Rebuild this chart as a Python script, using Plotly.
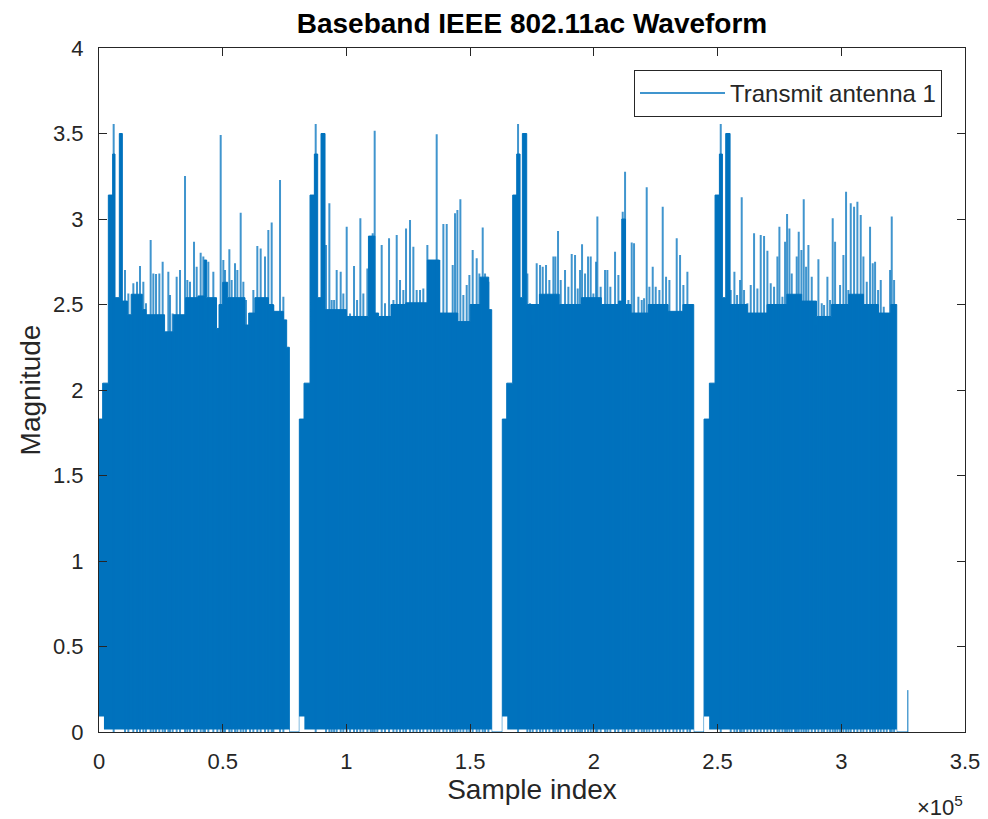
import plotly.graph_objects as go

# ---------------- data ----------------
# Step envelope (upper, dense part) of each packet: each level starts at the given sample index
p1_env_x = [0, 1480, 3770, 5520, 6470, 8220, 9430, 11500, 13000, 17500, 19000, 26500,
            30000, 35000, 40000, 42500, 43500, 47500, 48500, 50000, 52000, 59000, 60500,
            63000, 68500, 70500, 74510, 75850, 76930]
p1_env_y = [1.83, 2.04, 3.14, 3.38, 2.54, 3.50, 2.52, 2.44, 2.56, 2.47, 2.44, 2.34,
            2.44, 2.54, 2.55, 2.76, 2.54, 2.36, 2.50, 2.63, 2.54, 2.38, 2.45,
            2.54, 2.50, 2.46, 2.41, 2.25, 0.0]

p2_env_x = [80970, 82860, 85290, 87040, 88380, 89730, 91350, 100000, 108900, 111500,
            113000, 118000, 124000, 132700, 137600, 145000, 150000, 154000, 157500, 158710]
p2_env_y = [1.83, 2.04, 3.14, 3.38, 2.54, 3.50, 2.47, 2.43, 2.90, 2.45, 2.43,
            2.50, 2.51, 2.76, 2.45, 2.40, 2.50, 2.66, 2.47, 0.0]

p3_env_x = [163000, 164780, 167200, 168820, 170170, 171110, 172860, 178000, 186000,
            195000, 203000, 210000, 211300, 212800, 215000, 222000, 230000, 236000, 240360]
p3_env_y = [1.83, 2.04, 3.14, 3.38, 2.54, 3.50, 2.50, 2.56, 2.50,
            2.54, 2.50, 2.52, 3.00, 2.50, 2.45, 2.50, 2.46, 2.50, 0.0]

p4_env_x = [244540, 246690, 248980, 250740, 251950, 253300, 255050, 262000, 270000,
            278000, 284000, 290000, 296000, 303000, 309000, 315000, 320000, 322410, 326900]
p4_env_y = [1.83, 2.04, 3.14, 3.38, 2.54, 3.50, 2.50, 2.45, 2.50,
            2.56, 2.52, 2.43, 2.50, 2.56, 2.50, 2.45, 2.50, 0.0, 0.245]

# Lower envelope (smallest magnitude) of each packet
p1_min_x = [0, 2000, 76930]
p1_min_y = [0.09, 0.015, 0.0]
p2_min_x = [80970, 83000, 158710]
p2_min_y = [0.09, 0.015, 0.0]
p3_min_x = [163000, 165000, 240360]
p3_min_y = [0.09, 0.015, 0.0]
p4_min_x = [244540, 246600, 322410]
p4_min_y = [0.09, 0.015, 0.0]

# Individual peaks (sample index, magnitude)
p1_pk_x = [5930, 10510, 11860, 13880, 15360, 16570, 17920, 18990, 20880, 21960, 23040,
           24390, 25730, 26680, 28020, 28700, 29770, 31390, 32740, 34760, 35700, 36780,
           38400, 39480, 41090, 42170, 42840, 44190, 46210, 47830, 49180, 50250, 50930,
           52680, 53620, 54970, 55910, 57260, 58340, 59410, 61030, 62380, 63990, 65340,
           67090, 68440, 69790, 70470, 73160, 74510]
p1_pk_y = [3.556, 2.702, 2.565, 2.624, 2.633, 2.725, 2.633, 2.507, 2.877, 2.682, 2.678,
           2.682, 2.750, 2.321, 2.692, 2.555, 2.448, 2.663, 2.702, 3.252, 2.643, 2.633,
           2.867, 2.721, 2.803, 2.780, 2.409, 2.750, 2.692, 2.331, 3.491, 2.760, 2.702,
           2.823, 2.643, 2.741, 2.702, 3.037, 2.633, 2.526, 2.409, 2.585, 2.842, 2.828,
           2.780, 2.936, 2.979, 2.497, 3.228, 2.546]

p2_pk_x = [87580, 91750, 93100, 94040, 95020, 96060, 97680, 98750, 100110, 101460,
           103070, 104290, 105630, 106840, 108460, 109810, 110610, 111420, 112490,
           114250, 115590, 117220, 118990, 120320, 121660, 123000, 124090, 125700,
           127050, 128390, 129740, 131080, 132710, 134060, 135400, 136480, 137560,
           139180, 140530, 141870, 142950, 143890, 144840, 146050, 147260, 148610,
           149690, 151030, 152650, 153730, 155080, 156020, 157370]
p2_pk_y = [3.556, 2.848, 3.092, 2.526, 2.526, 2.702, 2.692, 2.565, 2.955, 2.448,
           2.725, 2.526, 3.004, 2.565, 2.711, 2.897, 2.916, 3.516, 2.429,
           2.848, 2.507, 2.887, 2.526, 2.906, 2.643, 2.585, 2.945, 2.994,
           2.838, 2.585, 2.585, 2.594, 2.848, 2.760, 2.760, 3.495, 2.760,
           2.971, 2.971, 2.429, 2.731, 3.033, 3.053, 3.115, 2.555, 2.614,
           2.672, 2.819, 2.770, 2.682, 2.951, 2.682, 2.633]

p3_pk_x = [169360, 173130, 174210, 175280, 176900, 178250, 179330, 180670, 182020,
           183640, 184440, 185520, 186600, 188350, 189700, 191050, 192400, 193480,
           194420, 195230, 196440, 197650, 198730, 199810, 200880, 201420, 202750,
           204520, 205460, 206670, 208560, 209910, 211660, 212610, 213960, 215300,
           216240, 218000, 219350, 220290, 221360, 222440, 223790, 225000, 226480,
           227830, 229180, 230530, 232140, 233490, 234840, 236180, 237800, 238870]
p3_pk_y = [3.556, 2.682, 2.507, 2.380, 2.741, 2.731, 2.721, 2.731, 2.643,
           2.780, 2.780, 2.930, 2.643, 2.702, 2.604, 2.795, 2.789, 2.594,
           2.702, 2.852, 2.682, 2.780, 2.780, 2.565, 2.750, 3.014, 2.604,
           2.702, 2.702, 2.604, 2.809, 2.672, 3.043, 3.277, 2.526, 2.862,
           2.858, 2.546, 2.526, 2.536, 3.185, 2.604, 2.721, 2.604, 2.585,
           3.072, 2.663, 2.643, 2.448, 2.887, 2.789, 2.614, 2.692, 2.487]

p4_pk_x = [251280, 255320, 256800, 257880, 259090, 259760, 260700, 262050, 263400,
           264750, 266090, 267440, 268790, 270140, 271480, 272830, 274180, 274990,
           276210, 277280, 278090, 279030, 279970, 281320, 281990, 282800, 283880,
           284820, 285770, 286710, 288060, 289410, 290750, 292100, 293040, 294390,
           295460, 296540, 297490, 298440, 299510, 300860, 301930, 302870, 303820,
           305170, 306510, 307860, 308940, 310290, 311630, 312710, 313660, 314870,
           315950, 317160, 318370, 319720, 320390, 321340]
p4_pk_y = [3.556, 2.585, 2.692, 2.555, 2.643, 3.127, 2.585, 2.507, 2.614,
           2.916, 2.594, 2.906, 2.901, 2.815, 2.624, 2.604, 2.780, 2.955,
           2.546, 2.867, 3.029, 2.945, 2.682, 2.448, 2.780, 2.926, 2.819,
           3.115, 2.721, 2.848, 2.663, 2.380, 2.764, 2.507, 2.497, 2.663,
           2.526, 3.004, 2.867, 2.497, 2.614, 2.789, 3.160, 2.585, 3.092,
           3.072, 3.101, 3.023, 2.780, 2.633, 2.955, 2.741, 2.750, 2.585,
           2.643, 2.487, 2.429, 2.702, 3.014, 2.643]

x_tick_vals = [0, 50000, 100000, 150000, 200000, 250000, 300000, 350000]
x_tick_text = ["0", "0.5", "1", "1.5", "2", "2.5", "3", "3.5"]
y_tick_vals = [0, 0.5, 1, 1.5, 2, 2.5, 3, 3.5, 4]
y_tick_text = ["0", "0.5", "1", "1.5", "2", "2.5", "3", "3.5", "4"]

# ---------------- build figure ----------------
BLUE = "#0072BD"
AX = "#262626"
FONT = "Liberation Sans, Arial, Helvetica, sans-serif"

# page body has an 8 px margin -> figure is 8 px smaller than the window on each axis
W, H = 980, 811
ML, MT, MR, MB = 91, 40, 23, 87
PW, PH = W - ML - MR, H - MT - MB

env_x = p1_env_x + p2_env_x + p3_env_x + p4_env_x
env_y = p1_env_y + p2_env_y + p3_env_y + p4_env_y

pk_x_all = p1_pk_x + p2_pk_x + p3_pk_x + p4_pk_x
pk_y_all = p1_pk_y + p2_pk_y + p3_pk_y + p4_pk_y
sx, sy = [], []
for xv, yv in zip(pk_x_all, pk_y_all):
    sx += [xv, xv, None]
    sy += [0, yv, None]

fig = go.Figure()
fig.add_trace(go.Scatter(
    x=env_x, y=env_y, mode="lines", line=dict(color=BLUE, width=1, shape="hv"),
    fill="tozeroy", fillcolor=BLUE, showlegend=False, hoverinfo="skip"))
for mx, my in [(p1_min_x, p1_min_y), (p2_min_x, p2_min_y),
               (p3_min_x, p3_min_y), (p4_min_x, p4_min_y)]:
    fig.add_trace(go.Scatter(
        x=mx, y=my, mode="lines", line=dict(color="white", width=0, shape="hv"),
        fill="tozeroy", fillcolor="white", showlegend=False, hoverinfo="skip"))
fig.add_trace(go.Scatter(
    x=sx, y=sy, mode="lines", line=dict(color="rgba(0,114,189,0.75)", width=2),
    name="Transmit antenna 1", showlegend=True, hoverinfo="skip"))

fig.update_layout(
    width=W, height=H,
    margin=dict(l=ML, r=MR, t=MT, b=MB),
    paper_bgcolor="white", plot_bgcolor="white",
    font=dict(family=FONT, color=AX),
    title=dict(text="<b>Baseband IEEE 802.11ac Waveform</b>", x=0.5, xref="paper",
               xanchor="center", y=1 - 15 / H, yref="container", yanchor="middle",
               font=dict(size=28, color="black", family=FONT)),
    legend=dict(x=(942 - 99) / PW, xanchor="right", y=(732 - 70) / PH, yanchor="top",
                bgcolor="white", bordercolor=AX, borderwidth=1,
                font=dict(size=24, color=AX, family=FONT), itemwidth=85),
    xaxis=dict(range=[0, 350000], tickvals=x_tick_vals, ticktext=x_tick_text,
               ticks="inside", ticklen=8, tickcolor=AX, showline=True, linecolor=AX,
               linewidth=1, mirror="ticks", showgrid=False, zeroline=False,
               tickfont=dict(size=22, color=AX), ticklabelstandoff=10, automargin=False,
               title=dict(text="Sample index", font=dict(size=28, color=AX), standoff=2)),
    yaxis=dict(range=[0, 4], tickvals=y_tick_vals, ticktext=y_tick_text,
               ticks="inside", ticklen=8, tickcolor=AX, showline=True, linecolor=AX,
               linewidth=1, mirror="ticks", showgrid=False, zeroline=False,
               tickfont=dict(size=22, color=AX), ticklabelstandoff=10, automargin=False,
               title=dict(text="Magnitude", font=dict(size=28, color=AX), standoff=4)),
    annotations=[dict(text="×10<sup>5</sup>", xref="paper", yref="paper", x=1.0,
                      y=-(806 - 732) / PH, xanchor="right", yanchor="middle",
                      showarrow=False, font=dict(size=22, color=AX, family=FONT))],
)

fig.write_html("out.html")
